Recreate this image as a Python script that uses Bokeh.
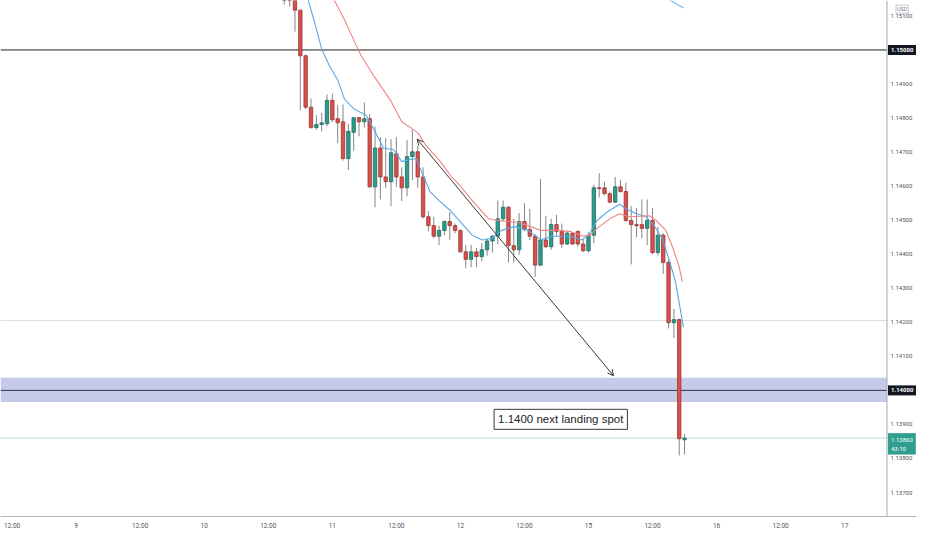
from bokeh.plotting import figure
from bokeh.models import (Range1d, FixedTicker, PrintfTickFormatter, Span, BoxAnnotation,
                          Label, Arrow, OpenHead, ColumnDataSource)
from bokeh.embed import file_html
from bokeh.resources import INLINE

# ---------------- data (hourly candles, trading-hour index; 0 = day 9 00:00) ----------------
hours = list(range(39, 115))
opens = [1.15217, 1.15168, 1.15154, 1.15117, 1.14983, 1.14832, 1.14772, 1.14781, 1.14783, 1.14852,
         1.14798, 1.14789, 1.14681, 1.14758, 1.14801, 1.14789, 1.14798, 1.14598, 1.14712, 1.14627,
         1.14613, 1.14695, 1.14627, 1.14595, 1.14687, 1.14701, 1.14627, 1.14510, 1.14484, 1.14453,
         1.14470, 1.14496, 1.14484, 1.14470, 1.14407, 1.14385, 1.14407, 1.14393, 1.14413, 1.14439,
         1.14453, 1.14504, 1.14538, 1.14425, 1.14413, 1.14496, 1.14473, 1.14453, 1.14368, 1.14442,
         1.14422, 1.14487, 1.14467, 1.14430, 1.14462, 1.14467, 1.14430, 1.14410, 1.14456, 1.14595,
         1.14595, 1.14578, 1.14553, 1.14598, 1.14584, 1.14499, 1.14487, 1.14487, 1.14476, 1.14499,
         1.14405, 1.14456, 1.14376, 1.14199, 1.14208, 1.13855]
highs = [1.15259, 1.15188, 1.15163, 1.15117, 1.14986, 1.14858, 1.14809, 1.14815, 1.14869, 1.14872,
         1.14838, 1.14840, 1.14783, 1.14801, 1.14803, 1.14846, 1.14812, 1.14775, 1.14744, 1.14741,
         1.14738, 1.14744, 1.14655, 1.14735, 1.14766, 1.14718, 1.14655, 1.14527, 1.14510, 1.14484,
         1.14499, 1.14524, 1.14490, 1.14473, 1.14427, 1.14427, 1.14419, 1.14433, 1.14447, 1.14456,
         1.14558, 1.14558, 1.14541, 1.14504, 1.14521, 1.14550, 1.14533, 1.14459, 1.14621, 1.14513,
         1.14504, 1.14516, 1.14490, 1.14467, 1.14464, 1.14470, 1.14447, 1.14464, 1.14604, 1.14638,
         1.14613, 1.14584, 1.14627, 1.14618, 1.14610, 1.14541, 1.14536, 1.14561, 1.14561, 1.14536,
         1.14481, 1.14462, 1.14382, 1.14239, 1.14211, 1.13872]
lows = [1.15134, 1.15128, 1.15054, 1.14823, 1.14826, 1.14769, 1.14766, 1.14761, 1.14775, 1.14789,
        1.14726, 1.14675, 1.14647, 1.14704, 1.14746, 1.14772, 1.14595, 1.14538, 1.14561, 1.14595,
        1.14541, 1.14598, 1.14556, 1.14570, 1.14618, 1.14595, 1.14504, 1.14467, 1.14447, 1.14427,
        1.14456, 1.14442, 1.14462, 1.14405, 1.14359, 1.14362, 1.14362, 1.14379, 1.14396, 1.14405,
        1.14430, 1.14496, 1.14376, 1.14376, 1.14399, 1.14467, 1.14442, 1.14333, 1.14365, 1.14419,
        1.14413, 1.14453, 1.14419, 1.14427, 1.14427, 1.14422, 1.14407, 1.14405, 1.14433, 1.14567,
        1.14573, 1.14550, 1.14550, 1.14581, 1.14496, 1.14370, 1.14450, 1.14447, 1.14427, 1.14399,
        1.14396, 1.14342, 1.14182, 1.14154, 1.13809, 1.13812]
closes = [1.15168, 1.15154, 1.15117, 1.14983, 1.14832, 1.14772, 1.14781, 1.14786, 1.14852, 1.14795,
          1.14786, 1.14681, 1.14761, 1.14801, 1.14789, 1.14798, 1.14598, 1.14712, 1.14627, 1.14613,
          1.14698, 1.14627, 1.14595, 1.14687, 1.14701, 1.14627, 1.14510, 1.14484, 1.14453, 1.14470,
          1.14496, 1.14484, 1.14470, 1.14407, 1.14385, 1.14407, 1.14393, 1.14413, 1.14439, 1.14453,
          1.14504, 1.14538, 1.14425, 1.14413, 1.14496, 1.14473, 1.14453, 1.14368, 1.14442, 1.14422,
          1.14487, 1.14467, 1.14430, 1.14462, 1.14430, 1.14430, 1.14410, 1.14456, 1.14595, 1.14593,
          1.14578, 1.14553, 1.14598, 1.14584, 1.14499, 1.14487, 1.14484, 1.14476, 1.14499, 1.14405,
          1.14456, 1.14376, 1.14199, 1.14208, 1.13858, 1.13860]

# moving averages (hour, price)
fast_ma_x = [43.1, 43.5, 44.8, 46.0, 47.5, 49.0, 50.3, 52.1, 54.3, 55.8, 57.6, 59.5, 61.0, 62.6, 63.7,
             65.0, 66.3, 68.1, 70.0, 71.8, 74.2, 76.1, 77.9, 79.7, 82.1, 84.7, 87.1, 89.0, 92.6, 94.8,
             96.0, 97.6, 99.5, 101.8, 103.1, 105.0, 106.8, 108.3, 109.8, 111.1, 112.3, 113.8]
fast_ma_y = [1.15174, 1.15145, 1.15074, 1.15003, 1.14952, 1.14912, 1.14855, 1.14826, 1.14809, 1.14766,
             1.14712, 1.14707, 1.14672, 1.14678, 1.14681, 1.14632, 1.14584, 1.14556, 1.14530, 1.14499,
             1.14456, 1.14442, 1.14447, 1.14470, 1.14481, 1.14470, 1.14442, 1.14453, 1.14453, 1.14442,
             1.14456, 1.14499, 1.14524, 1.14547, 1.14533, 1.14519, 1.14510, 1.14484, 1.14447, 1.14385,
             1.14319, 1.14185]
slow_ma_x = [47.7, 48.4, 50.3, 52.1, 53.4, 55.8, 58.9, 61.0, 63.2, 64.1, 65.6, 68.1, 70.5, 71.8, 73.7,
             74.8, 77.3, 79.2, 81.0, 82.9, 84.7, 87.1, 90.2, 92.6, 95.0, 96.3, 97.6, 100.0, 101.8, 103.7,
             107.4, 108.7, 110.5, 111.6, 112.9, 113.6]
slow_ma_y = [1.15174, 1.15145, 1.15088, 1.15026, 1.14983, 1.14923, 1.14852, 1.14789, 1.14766, 1.14755,
             1.14718, 1.14675, 1.14624, 1.14604, 1.14567, 1.14547, 1.14504, 1.14499, 1.14496, 1.14493,
             1.14484, 1.14470, 1.14470, 1.14467, 1.14453, 1.14456, 1.14476, 1.14504, 1.14519, 1.14510,
             1.14513, 1.14499, 1.14470, 1.14427, 1.14368, 1.14319]
long_ma_x = [110.7, 111.4, 113.8]
long_ma_y = [1.15154, 1.15145, 1.15123]

# drawings
level_lines = [1.15, 1.14]
zone = [1.13966, 1.14037]
thin_level = 1.14205
last_price = 1.1386
arrow_x = [63.9, 100.7]
arrow_y = [1.14738, 1.14043]
note_x, note_y = 90.8, 1.13915
note_text = "1.1400 next landing spot"

x_ticks = [-12, 0, 12, 24, 36, 48, 60, 72, 84, 96, 108, 120, 132, 144]
x_labels = ["12:00", "9", "12:00", "10", "12:00", "11", "12:00", "12", "12:00", "15",
            "12:00", "16", "12:00", "17"]
y_ticks = [1.137, 1.138, 1.139, 1.141, 1.142, 1.143, 1.144, 1.145, 1.146, 1.147, 1.148, 1.149, 1.151]

X0, X1 = -14.18, 157.46      # full frame incl. price-scale strip
XSEP = 151.93                # price-scale separator
Y0, Y1 = 1.136296, 1.151453

# ---------------- figure ----------------
p = figure(width=916, height=534, x_range=Range1d(X0, X1), y_range=Range1d(Y0, Y1),
           y_axis_location="right", output_backend="svg", toolbar_location=None,
           min_border_left=0, min_border_top=0, min_border_right=0, min_border_bottom=18,
           background_fill_color="white", border_fill_color="white")
p.outline_line_color = None
p.xgrid.visible = False
p.ygrid.visible = False

axis_col = "#b2b5be"
lab_col = "#50535e"
p.xaxis.ticker = FixedTicker(ticks=x_ticks)
p.xaxis.major_label_overrides = {t: l for t, l in zip(x_ticks, x_labels)}
p.yaxis.ticker = FixedTicker(ticks=y_ticks)
p.yaxis.formatter = PrintfTickFormatter(format="%.5f")
for ax in (p.xaxis, p.yaxis):
    ax.major_tick_line_color = None
    ax.minor_tick_line_color = None
    ax.major_tick_out = 0
    ax.major_tick_in = 0
    ax.minor_tick_out = 0
    ax.major_label_text_font = "Roboto"
    ax.major_label_text_font_size = "6px"
    ax.major_label_text_color = lab_col
p.xaxis.axis_line_color = axis_col
p.xaxis.major_label_standoff = 5
p.xaxis.major_label_text_font_size = "6.5px"
p.yaxis.axis_line_color = None
p.yaxis.major_label_standoff = -26

# price-scale separator
p.add_layout(Span(location=XSEP, dimension="height", line_color="#a6a9b2", line_width=1))

# background drawings
p.add_layout(BoxAnnotation(right=XSEP, bottom=zone[0], top=zone[1], fill_color="#c4cae8",
                           fill_alpha=1.0, line_color=None, level="underlay"))
p.segment(x0=[X0], y0=[thin_level], x1=[XSEP], y1=[thin_level], line_color="#d9d9dc",
          line_width=1)
p.segment(x0=[X0], y0=[last_price], x1=[XSEP], y1=[last_price], line_color="#b5e0da",
          line_width=1)
p.segment(x0=[X0, X0], y0=level_lines, x1=[XSEP, XSEP], y1=level_lines,
          line_color=["#1e1e1e", "#2f3350"], line_width=1)

# candles
up = [c >= o for o, c in zip(opens, closes)]
src = ColumnDataSource(dict(
    x=hours, high=highs, low=lows,
    top=[max(o, c) for o, c in zip(opens, closes)],
    bottom=[min(o, c) for o, c in zip(opens, closes)],
    fill=["#2b9c8c" if u else "#dc4f4a" for u in up],
    edge=["#1f6b61" if u else "#953632" for u in up],
))
p.segment(x0="x", y0="low", x1="x", y1="high", source=src, line_color="#858585", line_width=1)
p.vbar(x="x", width=0.64, top="top", bottom="bottom", source=src,
       fill_color="fill", line_color="edge", line_width=0.8)

# moving averages
p.line(fast_ma_x, fast_ma_y, line_color="#5aa8e8", line_width=1.1)
p.line(slow_ma_x, slow_ma_y, line_color="#f08383", line_width=1.1)
p.line(long_ma_x, long_ma_y, line_color="#6fb3ea", line_width=1.1)

# arrow
p.add_layout(Arrow(x_start=arrow_x[0], y_start=arrow_y[0], x_end=arrow_x[1], y_end=arrow_y[1],
                   line_color="#3a3a3a", line_width=1,
                   start=OpenHead(size=6, line_color="#3a3a3a", line_width=1),
                   end=OpenHead(size=6, line_color="#3a3a3a", line_width=1)))

# note box
p.add_layout(Label(x=note_x, y=note_y, text=note_text, text_align="center", text_baseline="middle",
                   text_font="Liberation Sans", text_font_size="11.5px", text_color="#1e1e1e",
                   background_fill_color="white", border_line_color="#3a3a3a", border_line_width=1,
                   padding=4))

# price-scale badges
for lv in level_lines:
    p.add_layout(Label(x=XSEP, y=lv, x_offset=1, text="%.5f" % lv, text_align="left",
                       text_baseline="middle", text_font="Roboto", text_font_size="6px",
                       text_font_style="bold", text_color="white",
                       background_fill_color="#131722", padding=3))
p.add_layout(Label(x=XSEP, y=1.13843, x_offset=1, text="%.5f\n43:10" % last_price,
                   text_align="left", text_baseline="middle", text_font="Roboto", text_font_size="6px",
                   text_color="white", background_fill_color="#2e9e8e", padding=3))
p.add_layout(Label(x=XSEP, y=1.1512, x_offset=9, text="USD", text_align="left",
                   text_baseline="middle", text_font="Roboto", text_font_size="5.5px",
                   text_color="#787b86", background_fill_color="white",
                   border_line_color="#c8cad0", border_line_width=1, padding=1))

open("out.html", "w").write(file_html(p, INLINE))
